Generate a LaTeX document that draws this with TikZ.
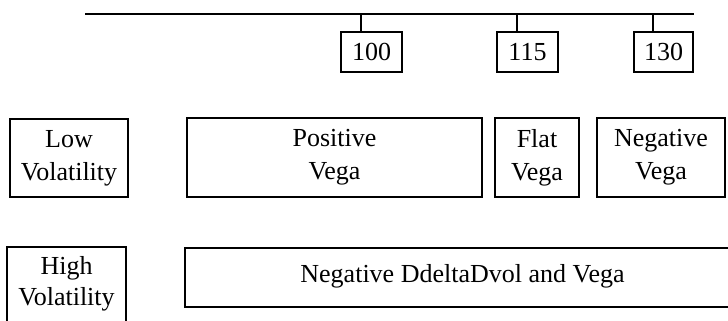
\documentclass[tikz,border=0pt]{standalone}
\usepackage{fontspec}
\setmainfont{Liberation Serif}
\begin{document}
\begin{tikzpicture}[x=1pt,y=-1pt,
  boxline/.style={line width=1.6pt, black},
  box/.style={draw, boxline, inner sep=0pt, align=center, font=\fontsize{26}{33}\selectfont},
  txt/.style={inner sep=0pt, align=center, font=\fontsize{26}{31}\selectfont}]
\useasboundingbox (0,0) rectangle (728,321);
\clip (0,0) rectangle (728,321);
% top axis
\coordinate (lineL) at (85,14);
\coordinate (lineR) at (694,14);
\draw[boxline, line width=1.8pt] (lineL) -- (lineR);
% strike boxes
\node[box, minimum width=61pt, minimum height=40pt] (b100) at (371.5,52) {100};
\node[box, minimum width=61pt, minimum height=40pt] (b115) at (527.5,52) {115};
\node[box, minimum width=59pt, minimum height=40pt] (b130) at (663.5,52) {130};
\coordinate (t100) at (361,14);
\coordinate (t115) at (517,14);
\coordinate (t130) at (653,14);
\draw[boxline] (t100) -- (t100 |- b100.north);
\draw[boxline] (t115) -- (t115 |- b115.north);
\draw[boxline] (t130) -- (t130 |- b130.north);
% low volatility row
\node[box, minimum width=118pt, minimum height=78pt] (lowv) at (69,158) {Low\\Volatility};
\node[box, minimum width=295pt, minimum height=79pt] (posv) at (334.5,157.5) {Positive\\Vega};
\node[box, minimum width=84pt, minimum height=79pt] (flatv) at (537,157.5) {Flat\\Vega};
\node[box, minimum width=128pt, minimum height=79pt] (negv) at (661,157.5) {Negative\\Vega};
% high volatility row
\node[txt] (highv) at (66.5,284) {High\\Volatility};
\draw[boxline] (7,335) |- (126,247) -- (126,335);
\node[box, minimum width=555pt, minimum height=59pt, text depth=8pt, text height=18pt] (negdd) at (462.5,277.5) {Negative DdeltaDvol and Vega};
\end{tikzpicture}
\end{document}
